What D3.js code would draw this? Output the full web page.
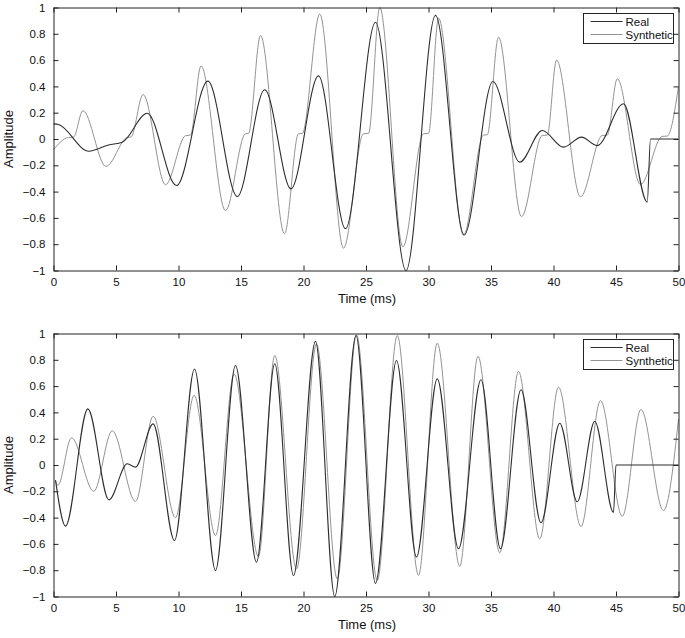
<!DOCTYPE html>
<html>
<head>
<meta charset="utf-8">
<title>Real vs Synthetic</title>
<script src="https://cdn.jsdelivr.net/npm/d3@7"></script>
<style>
  body { margin: 0; background: #fff; }
  text { font-family: "Liberation Sans", Arial, sans-serif; }
</style>
</head>
<body>
<script>
// values, [time ms, amplitude]
var topReal = [[0,0.115],[0.4,0.11],[2.83,-0.093],[4.4,-0.045],[5.5,-0.025],[7.5,0.196],[9.84,-0.354],
  [12.35,0.44],[14.7,-0.437],[16.9,0.374],[19.0,-0.379],[21.2,0.48],[23.36,-0.683],[25.76,0.888],
  [28.2,-1.0],[30.56,0.94],[32.85,-0.73],[35.15,0.437],[37.3,-0.176],[39.1,0.065],[40.8,-0.062],
  [42.24,0.014],[43.5,-0.05],[45.6,0.268],[47.5,-0.48],[47.76,0],[50,0]];

var topSynth = [[0,-0.082],[1.2,0.012],[1.6,0.014],[2.35,0.215],[4.2,-0.208],[5.9,0.012],[6.2,0.015],
  [7.17,0.338],[8.96,-0.348],[10.56,0.025],[10.96,0.03],[11.8,0.556],[13.76,-0.544],[15.36,0.04],
  [15.6,0.042],[16.56,0.787],[18.48,-0.72],[19.6,0.04],[19.9,0.042],[21.3,0.95],[23.2,-0.83],
  [24.8,0.04],[25.2,0.042],[26.1,1.0],[27.95,-0.82],[29.6,0.04],[30.0,0.042],[30.8,0.92],
  [32.8,-0.73],[34.4,0.03],[34.7,0.032],[35.6,0.774],[37.44,-0.59],[39.1,0.027],[39.5,0.029],
  [40.24,0.6],[42.16,-0.44],[43.9,0.027],[44.3,0.029],[45.1,0.458],[46.96,-0.346],[48.7,0.02],
  [49.1,0.022],[50,0.4]];

var bottomReal = [[0.16,-0.115],[0.96,-0.465],[2.75,0.427],[4.43,-0.265],[5.9,0.009],[6.56,-0.016],
  [7.97,0.313],[9.68,-0.574],[11.28,0.73],[12.96,-0.802],[14.56,0.757],[16.24,-0.739],[17.7,0.77],
  [19.2,-0.84],[20.96,0.94],[22.5,-1.0],[24.2,0.985],[25.76,-0.9],[27.44,0.795],[29.04,-0.7],
  [30.7,0.655],[32.4,-0.637],[34.2,0.648],[35.76,-0.637],[37.4,0.572],[39.0,-0.44],[40.5,0.318],
  [41.9,-0.28],[43.3,0.333],[44.8,-0.36],[45.0,0],[50,0]];

var bottomSynth = [[0.16,-0.12],[0.35,-0.155],[1.44,0.207],[3.22,-0.2],[4.7,0.26],[6.56,-0.278],
  [7.97,0.37],[9.76,-0.4],[11.25,0.53],[12.96,-0.536],[14.45,0.69],[16.4,-0.696],[17.7,0.833],
  [19.44,-0.79],[21.04,0.92],[22.7,-0.866],[24.24,0.99],[25.9,-0.878],[27.5,0.985],[29.2,-0.84],
  [30.7,0.926],[32.5,-0.77],[33.96,0.827],[35.7,-0.668],[37.2,0.711],[38.9,-0.562],[40.4,0.592],
  [42.2,-0.468],[43.76,0.49],[45.5,-0.39],[47.0,0.422],[48.8,-0.346],[50,0.35]];

var xTicks = [0,5,10,15,20,25,30,35,40,45,50];
var yTicks = [-1,-0.8,-0.6,-0.4,-0.2,0,0.2,0.4,0.6,0.8,1];
var seriesNames = ["Real", "Synthetic"];
var seriesColors = ["#2e2e2e", "#939393"];

var W = 685, H = 638;
var left = 53, right = 678, ph = 263; // plot height

var svg = d3.select("body").append("svg").attr("width", W).attr("height", H);

function panel(top, real, synth) {
  var x = d3.scaleLinear().domain([0, 50]).range([0, right - left]);
  var y = d3.scaleLinear().domain([-1, 1]).range([ph, 0]);
  var g = svg.append("g").attr("transform", "translate(" + (left + 0.5) + "," + (top + 0.5) + ")");

  var line = d3.line()
    .x(function(d) { return x(d[0]); })
    .y(function(d) { return y(d[1]); })
    .curve(d3.curveMonotoneX);

  g.append("path").datum(synth).attr("d", line)
    .attr("fill", "none").attr("stroke", seriesColors[1]).attr("stroke-width", 1);
  g.append("path").datum(real).attr("d", line)
    .attr("fill", "none").attr("stroke", seriesColors[0]).attr("stroke-width", 1.1);

  // box with inward ticks on all sides
  var fmt = d3.format("~g");
  var axes = [
    g.append("g").attr("transform", "translate(0," + ph + ")")
      .call(d3.axisBottom(x).tickValues(xTicks).tickSizeInner(-5).tickSizeOuter(0).tickPadding(7).tickFormat(fmt)),
    g.append("g")
      .call(d3.axisLeft(y).tickValues(yTicks).tickSizeInner(-5).tickSizeOuter(0).tickPadding(8).tickFormat(fmt)),
    g.append("g")
      .call(d3.axisTop(x).tickValues(xTicks).tickSizeInner(-5).tickSizeOuter(0).tickFormat("")),
    g.append("g").attr("transform", "translate(" + (right - left) + ",0)")
      .call(d3.axisRight(y).tickValues(yTicks).tickSizeInner(-5).tickSizeOuter(0).tickFormat(""))
  ];
  axes.forEach(function(a) {
    a.selectAll("path,line").attr("stroke", "#222");
    a.selectAll("text").attr("font-size", "11.5px").attr("fill", "#111")
      .attr("font-family", "Liberation Sans, Arial, sans-serif");
  });

  g.append("text").attr("x", (right - left) / 2 + 1).attr("y", ph + 32)
    .attr("text-anchor", "middle").attr("font-size", "13px").attr("fill", "#111")
    .text("Time (ms)");
  g.append("text").attr("transform", "translate(" + (-41) + "," + (ph / 2) + ") rotate(-90)")
    .attr("text-anchor", "middle").attr("font-size", "13px").attr("fill", "#111")
    .text("Amplitude");

  // legend
  var lg = g.append("g").attr("transform", "translate(" + (583 - left) + ",6)");
  lg.append("rect").attr("width", 90).attr("height", 30)
    .attr("fill", "#fff").attr("stroke", "#222");
  seriesNames.forEach(function(n, i) {
    lg.append("line").attr("x1", 7).attr("x2", 39).attr("y1", 8 + i * 13).attr("y2", 8 + i * 13)
      .attr("stroke", seriesColors[i]).attr("stroke-width", 1);
    lg.append("text").attr("x", 42).attr("y", 12 + i * 13).attr("font-size", "11.5px").attr("fill", "#111")
      .text(n);
  });
}

panel(7, topReal, topSynth);
panel(333, bottomReal, bottomSynth);
</script>
</body>
</html>
